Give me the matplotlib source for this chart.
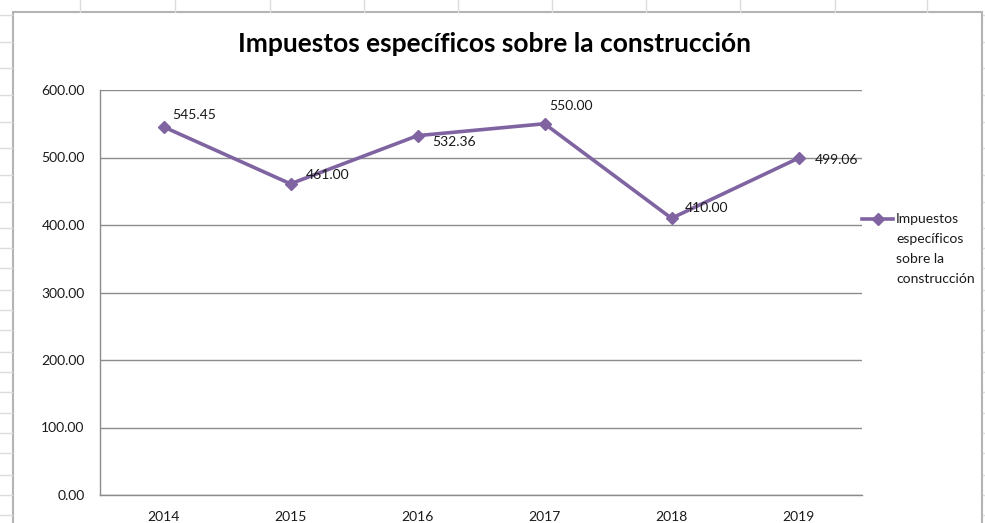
import matplotlib
matplotlib.use("Agg")
import matplotlib.pyplot as plt
from matplotlib.lines import Line2D
from matplotlib.patches import Rectangle

# data
years = ["2014", "2015", "2016", "2017", "2018", "2019"]
values = [545.45, 461.00, 532.36, 550.00, 410.00, 499.06]
series_name = "Impuestos específicos sobre la construcción"
yticks = [0, 100, 200, 300, 400, 500, 600]

W, H = 985, 523
purple = "#8064a2"
grid_grey = "#8c8c8c"
font = "Lato"

plt.rcParams["font.family"] = [font, "DejaVu Sans"]

fig = plt.figure(figsize=(W / 100, H / 100), dpi=100)
fig.patch.set_facecolor("white")


def fx(px):
    return px / W


def fy(py):
    return 1 - py / H


# spreadsheet cells peeking out around the chart
sheet = "#dcdcdc"
for x in [80, 175, 270, 364, 458, 552, 646, 740, 835, 927]:
    fig.add_artist(Line2D([fx(x), fx(x)], [fy(0), fy(12)], color=sheet, lw=1))
for y in [15, 42, 68, 95, 122, 148, 175, 202, 228, 248, 268, 290, 310, 330,
          352, 372, 392, 413, 433, 453, 475, 495, 515]:
    fig.add_artist(Line2D([fx(0), fx(12)], [fy(y), fy(y)], color=sheet, lw=1))
    fig.add_artist(Line2D([fx(983), fx(985)], [fy(y), fy(y)], color=sheet, lw=1))

# chart border
fig.add_artist(Rectangle((fx(13), fy(530)), fx(982) - fx(13), fy(12) - fy(530),
                         fill=False, edgecolor="#b4b4b4", lw=1.5))

ax = fig.add_axes([fx(100), fy(495), fx(862) - fx(100), fy(90) - fy(495)])
x = list(range(len(years)))
ax.plot(x, values, color=purple, lw=2.6, marker="D", markersize=6.5,
        markerfacecolor=purple, markeredgecolor=purple)

ax.set_xlim(-0.5, len(years) - 0.5)
ax.set_ylim(0, 600)
ax.set_yticks(yticks)
ax.set_yticklabels([f"{v:.2f}" for v in yticks])
ax.set_xticks(x)
ax.set_xticklabels(years)
ax.tick_params(axis="both", length=0, labelsize=10, colors="#1a1a1a")
ax.tick_params(axis="y", pad=11)
ax.tick_params(axis="x", pad=11.5)
ax.grid(axis="y", color=grid_grey, lw=1)
ax.set_axisbelow(True)
for s in ["top", "right"]:
    ax.spines[s].set_visible(False)
for s in ["left", "bottom"]:
    ax.spines[s].set_color(grid_grey)
    ax.spines[s].set_linewidth(1)

# data labels (offsets in pixels, left edge / vertical centre)
label_offsets = [(9, 12), (15, 9), (15, -6), (5, 18), (13, 10), (16, -2)]
for xi, v, (dx, dy) in zip(x, values, label_offsets):
    ax.annotate(f"{v:.2f}", (xi, v), xytext=(dx, dy), textcoords="offset pixels",
                ha="left", va="center", fontsize=10, color="#1a1a1a")

# title
fig.text(fx(494), fy(44), series_name, ha="center", va="center",
         fontsize=19, fontweight="bold", color="black")

# legend
fig.add_artist(Line2D([fx(862), fx(878), fx(893)], [fy(219)] * 3, color=purple,
                      lw=2.6, marker="D", markersize=6.5, markevery=[1]))
fig.text(fx(896), fy(213), "Impuestos\nespecíficos\nsobre la\nconstrucción",
         ha="left", va="top", fontsize=10, color="#1a1a1a", linespacing=1.8,
         transform=fig.transFigure)

fig.savefig("out.png", dpi=100)
